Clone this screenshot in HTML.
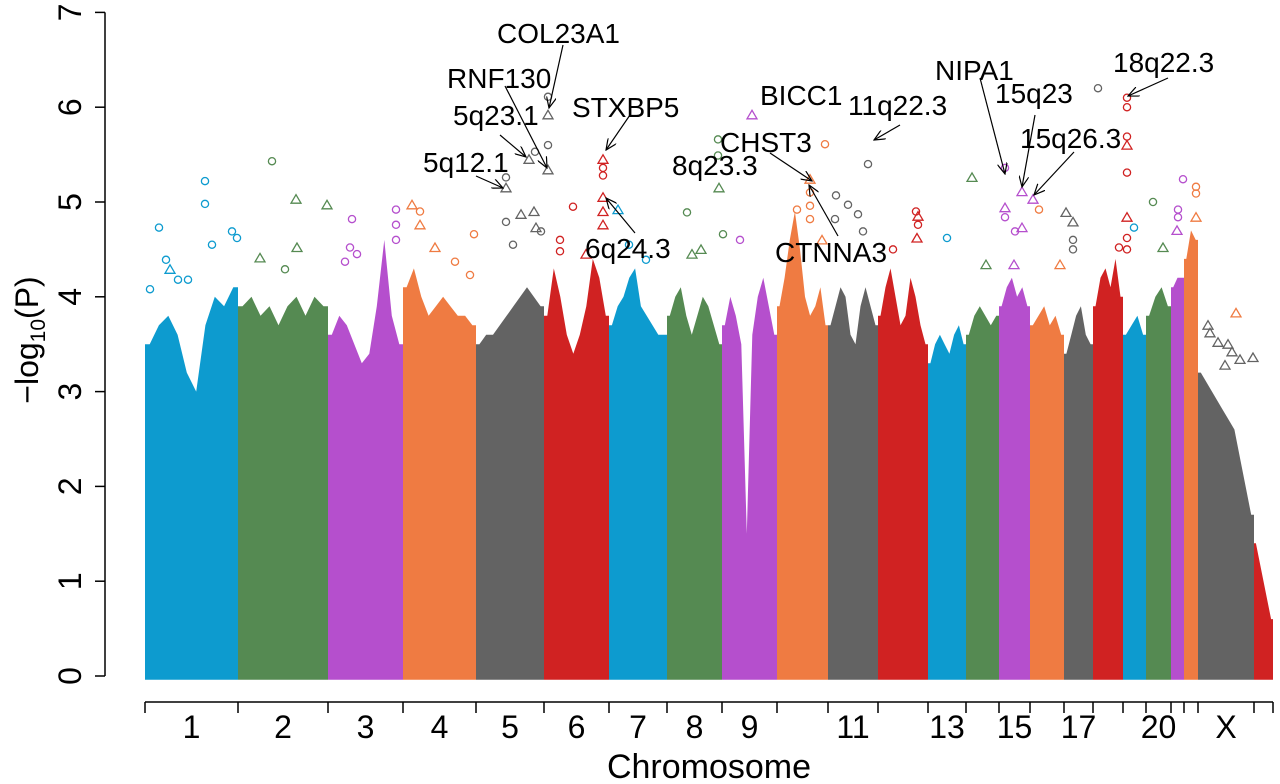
<!DOCTYPE html>
<html><head><meta charset="utf-8"><style>
html,body{margin:0;padding:0;background:#fff;}
svg{display:block;font-family:"Liberation Sans",Arial,sans-serif;}
</style></head><body>
<svg id="chart" width="1280" height="784" viewBox="0 0 1280 784"></svg>
<script>
// ---- data ----
const chromNames = ["1","2","3","4","5","6","7","8","9","10","11","12","13","14","15","16","17","18","19","20","21","22","X","XY"];
const chromSizes = [93,90,75,73,68,65,58,55,55,51,50,50,38,33,31,34,29,30,23,25,13,14,56,19];
const shownLabels = ["1","2","3","4","5","6","7","8","9","11","13","15","17","20","X"];
const yTicks = [0,1,2,3,4,5,6,7];
// dense-region top (-log10 P) sampled evenly along each chromosome
const denseTops = [
 [3.5,3.7,3.8,3.6,3.2,3.0,3.7,4.0,3.9,4.1],
 [3.9,4.0,3.8,3.9,3.7,3.9,4.0,3.8,4.0,3.9],
 [3.6,3.8,3.7,3.5,3.3,3.4,3.9,4.6,3.8,3.5],
 [4.1,4.3,4.0,3.8,3.9,4.0,3.9,3.8,3.8,3.7],
 [3.5,3.6,3.6,3.7,3.8,3.9,4.0,4.1,4.0,3.9],
 [3.8,4.3,4.0,3.6,3.4,3.6,3.9,4.4,4.2,3.8],
 [3.7,3.9,4.0,4.2,4.3,3.9,3.8,3.7,3.6,3.6],
 [3.8,4.0,4.1,3.8,3.6,3.8,4.0,3.9,3.7,3.5],
 [3.7,4.0,3.8,3.5,1.5,3.6,4.0,4.2,3.9,3.6],
 [3.9,4.2,4.6,4.9,4.5,4.0,3.8,3.9,4.1,3.7],
 [3.7,3.9,4.1,4.0,3.6,3.5,3.9,4.1,3.9,3.7],
 [3.8,4.1,4.3,4.0,3.7,3.8,4.2,4.0,3.7,3.5],
 [3.3,3.5,3.6,3.5,3.4,3.6,3.7,3.5],
 [3.6,3.8,3.9,3.8,3.7,3.8],
 [3.9,4.1,4.2,4.0,4.1,3.9],
 [3.7,3.8,3.9,3.7,3.8,3.6],
 [3.4,3.6,3.8,3.9,3.6,3.5],
 [3.9,4.2,4.3,4.1,4.4,4.0],
 [3.6,3.7,3.8,3.6],
 [3.8,4.0,4.1,3.9],
 [4.1,4.2,4.2],
 [4.4,4.7,4.6],
 [3.2,3.1,3.0,2.9,2.8,2.7,2.6,2.3,2.0,1.7],
 [1.4,1.2,1.0,0.8,0.6]
];
// individual SNP hits: chromosome number, position within chromosome, -log10 P, marker
const hitChrom = [1,1,1,1,1,1,1,1,1,1,1, 2,2,2,2,2,2, 3,3,3,3,3,3,3, 4,4,4,4,4,4,4, 5,5,5,5,5,5,5,5,5,5,5,5,5,5, 6,6,6,6,6,6,6,6,6,6, 7,7,7, 8,8,8,8,8,8,8, 9,9, 10,10,10,10,10,10,10, 11,11,11,11,11,11, 12,12,12,12,12, 13, 14,14, 15,15,15,15,15,15,15,15, 16,16, 17,17,17,17,17, 18,18,18,18,18,18,18,18,18, 19, 20,20, 21,21,21,21, 22,22,22,22, 23,23,23,23,23,23,23,23,23];
const hitPos = [14,60,60,21,5,33,43,67,87,92,25, 34,58,89,59,47,22, 24,68,68,68,22,29,17, 9,17,17,32,52,67,71, 30,30,53,72,72,72,72,45,58,30,60,37,65, 59,59,59,59,59,59,59,16,16,42, 29,20,37, 9,20,52,51,51,56,34, 25,18, 30,33,33,33,33,20,45, 48,8,20,30,35,7, 40,38,40,39,15, 40, 19,20, 6,6,23,6,6,23,16,34, 15,30, 9,9,9,9,2, 34,34,34,34,34,34,34,34,34, 26, 11,17, 7,7,7,6, 12,12,12,12, 52,20,30,34,27,42,55,10,12];
const hitVal = [4.73,5.22,4.98,4.39,4.08,4.18,4.18,4.55,4.69,4.62,4.29, 5.43,5.03,4.97,4.52,4.29,4.41, 4.82,4.92,4.76,4.60,4.52,4.45,4.37, 4.97,4.76,4.90,4.52,4.37,4.23,4.66, 5.15,5.26,5.45,5.34,5.60,5.92,6.11,4.87,4.90,4.79,4.73,4.55,4.69, 5.53,5.45,5.36,5.28,5.05,4.90,4.76,4.60,4.48,4.45, 4.95,4.55,4.39, 4.92,4.89,5.15,5.66,5.49,4.66,4.50, 4.45,4.60, 5.92,5.24,5.10,4.96,4.82,4.92,4.60, 5.61,5.07,4.97,4.87,4.69,4.82, 5.40,4.90,4.76,4.62,4.50, 4.85, 4.62,4.34, 5.26,5.36,5.11,4.94,4.84,4.73,4.69,5.03, 4.34,4.34, 4.92,4.79,4.60,4.50,4.89, 6.20,6.10,6.00,5.60,5.69,5.31,4.84,4.62,4.50, 4.52, 4.73,4.52, 5.00,4.92,4.84,4.70, 5.24,5.16,5.09,4.84, 3.83,3.52,3.50,3.42,3.28,3.34,3.36,3.70,3.62];
const hitShape = ["o","o","o","o","o","o","o","o","o","o","t", "o","t","t","t","o","t", "o","o","o","o","o","o","o", "t","t","o","t","o","o","o", "t","o","t","t","o","t","o","t","t","o","t","o","o", "o","t","o","o","t","t","t","o","o","t", "o","o","o", "t","o","t","o","o","o","t", "t","o", "t","t","o","o","o","o","t", "o","o","o","o","o","o", "o","o","o","t","o", "t", "o","t", "t","o","t","t","o","t","o","t", "t","t", "o","t","o","o","t", "o","o","o","t","o","o","t","o","o", "o", "o","t", "o","o","o","t", "o","o","o","t", "t","t","t","t","t","t","t","t","t"];
// annotations: text, label x, baseline y, arrow from, arrow to
const annText = ["COL23A1","RNF130","5q23.1","5q12.1","STXBP5","6q24.3","8q23.3","CHST3","CTNNA3","BICC1","11q22.3","NIPA1","15q23","15q26.3","18q22.3"];
const annLayout = [
 [497,43, 563,45,549,108],[447,88, 505,86,547,168],[453,125, 500,135,526,157],[423,172, 476,176,503,188],
 [572,117, 630,115,606,150],[585,258, 635,233,606,198],[672,175, null],[720,152, 770,153,812,181],
 [775,262, 838,236,809,185],[760,105, null],[848,115, 900,125,874,140],[935,80, 980,78,1005,174],
 [995,103, 1035,115,1022,187],[1020,148, 1074,152,1034,195],[1113,72, 1168,78,1128,96]];

// ---- scales ----
const svg = document.getElementById('chart');
const NS = "http://www.w3.org/2000/svg";
const X0 = 145, PXU = (1273-145)/chromSizes.reduce((a,b)=>a+b,0);
const Y0 = 676, PXV = 94.8;
const starts = []; { let c=0; chromSizes.forEach(s=>{starts.push(c); c+=s;}); }
const xs = v => X0 + v*PXU;
const ys = v => Y0 - v*PXV;
const palette = ["#0d9bcf","#558a52","#b54fcd","#ef7b42","#636363","#d02222"];
function mk(tag, attrs, parent){ const e=document.createElementNS(NS,tag); for(const k in attrs) e.setAttribute(k,attrs[k]); (parent||svg).appendChild(e); return e; }

// dense fills
const gDense = mk('g',{});


denseTops.forEach((tops,i)=>{
  const s=starts[i], w=chromSizes[i], n=tops.length;
  let pts=[[xs(s),ys(-0.04)],[xs(s),ys(tops[0])]];
  tops.forEach((t,k)=>{ pts.push([xs(s+(k+0.5)*w/n),ys(t)]); });
  pts.push([xs(s+w),ys(tops[n-1])],[xs(s+w),ys(-0.04)]);
  const p = mk('polygon',{points:pts.map(q=>q[0].toFixed(1)+','+q[1].toFixed(1)).join(' '),fill:palette[i%6]},gDense);
  
  
});

// hits
const gHits = mk('g',{fill:'none','stroke-width':'1.3'});


hitChrom.forEach((c,i)=>{
  const ci=c-1, x=xs(starts[ci]+hitPos[i]), y=ys(hitVal[i]), col=palette[ci%6];
  let e;
  if(hitShape[i]==='o') e=mk('circle',{cx:x.toFixed(1),cy:y.toFixed(1),r:3.6,stroke:col},gHits);
  else e=mk('polygon',{points:`${x.toFixed(1)},${(y-4.5).toFixed(1)} ${(x-5).toFixed(1)},${(y+4).toFixed(1)} ${(x+5).toFixed(1)},${(y+4).toFixed(1)}`,stroke:col},gHits);
  
  
});

// y axis
const gY = mk('g',{});


mk('line',{x1:105,x2:105,y1:ys(7),y2:ys(0),stroke:'#000','stroke-width':1.5},gY);
yTicks.forEach(t=>{
  mk('line',{x1:95,x2:105,y1:ys(t),y2:ys(t),stroke:'#000','stroke-width':1.5},gY);
  const tx=mk('text',{x:0,y:0,'font-size':32,'text-anchor':'middle',transform:`translate(81,${ys(t)}) rotate(-90)`},gY);
  tx.textContent=t;
  
  
});
const yt = mk('text',{x:0,y:0,'font-size':32,'text-anchor':'middle',transform:'translate(38,340) rotate(-90)'});


yt.innerHTML='−log<tspan font-size="21" dy="7">10</tspan><tspan dy="-7">(P)</tspan>';

// x axis
const gX = mk('g',{});


mk('line',{x1:xs(0),x2:xs(starts[23]+chromSizes[23]),y1:702,y2:702,stroke:'#000','stroke-width':1.5},gX);
starts.concat([starts[23]+chromSizes[23]]).forEach(s=>{
  mk('line',{x1:xs(s),x2:xs(s),y1:702,y2:713,stroke:'#000','stroke-width':1.5},gX);
});
chromNames.forEach((nm,i)=>{
  if(shownLabels.indexOf(nm)<0) return;
  const t=mk('text',{x:xs(starts[i]+chromSizes[i]/2),y:738,'font-size':32,'text-anchor':'middle'},gX);
  t.textContent=nm;
  
  
});
const xt=mk('text',{x:709,y:778,'font-size':34,'text-anchor':'middle'});
xt.textContent='Chromosome';



// annotations
const defs=mk('defs',{});
const mkr=mk('marker',{id:'ah',markerWidth:12,markerHeight:10,refX:11,refY:5,orient:'auto',markerUnits:'userSpaceOnUse'},defs);
mk('path',{d:'M0,0 L11,5 L0,10',fill:'none',stroke:'#000','stroke-width':1.2},mkr);
annText.forEach((txt,i)=>{
  const L=annLayout[i];
  if(L[2]!==null){
    const a=mk('line',{x1:L[2],y1:L[3],x2:L[4],y2:L[5],stroke:'#000','stroke-width':1.2,'marker-end':'url(#ah)'});
    
    
  }
  const t=mk('text',{x:L[0],y:L[1],'font-size':28});
  t.textContent=txt;
  
  
});
</script>
</body></html>
